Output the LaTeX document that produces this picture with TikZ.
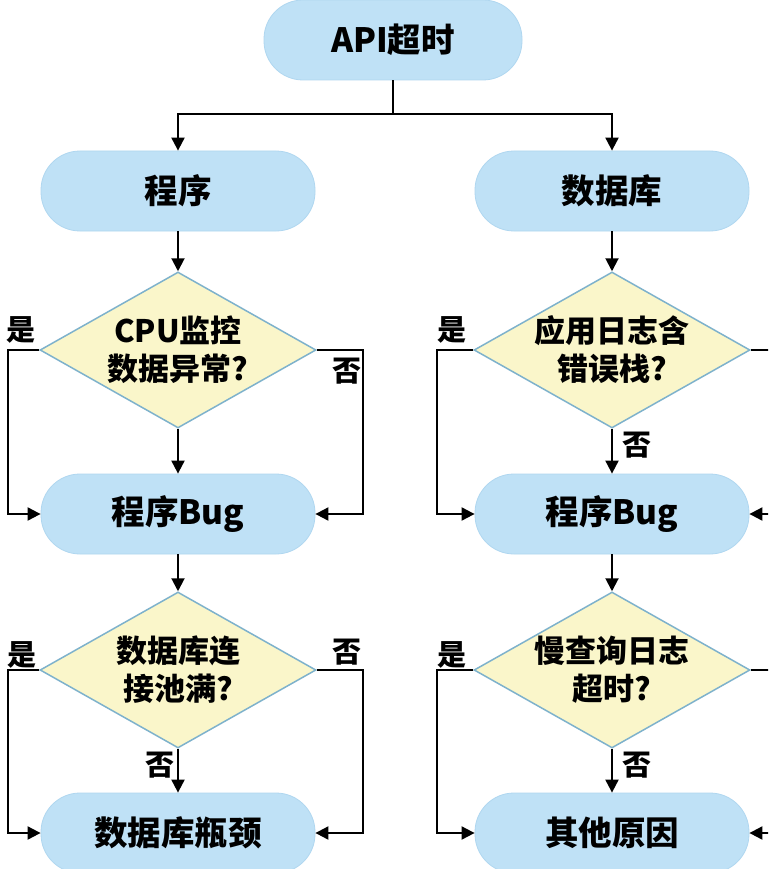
\documentclass[tikz,border=0pt]{standalone}
\usepackage{fontspec}
\setmainfont{Noto Sans CJK SC}
\usetikzlibrary{arrows.meta,shapes.geometric}
\definecolor{pillblue}{HTML}{BFE1F6}
\definecolor{pilledge}{HTML}{B0D7F0}
\definecolor{diafill}{HTML}{FAF6CA}
\definecolor{diaedge}{HTML}{7EB2CC}
\tikzset{
  pill/.style={rounded corners=39pt, fill=pillblue, draw=pilledge, line width=0.8pt,
    minimum width=274pt, minimum height=80pt, inner sep=0pt,
    font=\fontsize{33.5}{36}\selectfont\bfseries},
  dia/.style={diamond, fill=diafill, draw=diaedge, line width=1.5pt,
    minimum width=276pt, minimum height=156pt, inner sep=0pt},
  diatext/.style={align=center, font=\fontsize{31}{38}\selectfont\bfseries},
  lbl/.style={font=\fontsize{29}{30}\selectfont\bfseries, inner sep=0pt},
  conn/.style={line width=2pt, black},
  arr/.style={conn, -{Triangle[length=13pt,width=13pt]}}
}
\begin{document}
\begin{tikzpicture}[x=1pt,y=-1pt]
\useasboundingbox (0,0) rectangle (768,869);
\clip (0,0) rectangle (768,869);
\fill[white] (0,0) rectangle (768,869);
% nodes
\node[pill, minimum width=258pt] (api) at (393,40) {API超时};
\node[pill] (prog) at (178,191) {程序};
\node[pill] (db) at (612,191) {数据库};
\node[dia] (d1) at (178,350) {};
\node[diatext] (t1) at (d1.center) {CPU监控\\数据异常?};
\node[dia] (d2) at (612,350) {};
\node[diatext] (t2) at (d2.center) {应用日志含\\错误栈?};
\node[pill] (bug1) at (178,514) {程序Bug};
\node[pill] (bug2) at (612,514) {程序Bug};
\node[dia] (d3) at (178,670) {};
\node[diatext] (t3) at (d3.center) {数据库连\\接池满?};
\node[dia] (d4) at (612,670) {};
\node[diatext] (t4) at (d4.center) {慢查询日志\\超时?};
\node[pill] (bot1) at (178,833) {数据库瓶颈};
\node[pill] (bot2) at (612,833) {其他原因};
% helper coordinates
\coordinate (split) at (393,114);
\coordinate (l1) at (8,350);
\coordinate (r1) at (363,350);
\coordinate (l2) at (437,350);
\coordinate (r2) at (800,350);
\coordinate (l3) at (8,670);
\coordinate (r3) at (363,670);
\coordinate (l4) at (437,670);
\coordinate (r4) at (800,670);
% top split
\draw[conn] (api.south) -- (split);
\draw[arr] (split) -| (prog.north);
\draw[arr] (split) -| (db.north);
% vertical flow
\draw[arr] (prog.south) -- (d1.north);
\draw[arr] (db.south) -- (d2.north);
\draw[arr] (d1.south) -- (bug1.north);
\draw[arr] (d2.south) -- (bug2.north);
\draw[arr] (bug1.south) -- (d3.north);
\draw[arr] (bug2.south) -- (d4.north);
\draw[arr] (d3.south) -- (bot1.north);
\draw[arr] (d4.south) -- (bot2.north);
% side loops
\draw[arr] (d1.west) -- (l1) |- (bug1.west);
\draw[arr] (d1.east) -- (r1) |- (bug1.east);
\draw[arr] (d2.west) -- (l2) |- (bug2.west);
\draw[arr] (d2.east) -- (r2) |- (bug2.east);
\draw[arr] (d3.west) -- (l3) |- (bot1.west);
\draw[arr] (d3.east) -- (r3) |- (bot1.east);
\draw[arr] (d4.west) -- (l4) |- (bot2.west);
\draw[arr] (d4.east) -- (r4) |- (bot2.east);
% labels
\node[lbl] (y1) at (21,330) {是};
\node[lbl] (n1) at (347,371) {否};
\node[lbl] (y2) at (452,330) {是};
\node[lbl] (n2) at (637,445) {否};
\node[lbl] (y3) at (22,655) {是};
\node[lbl] (n3a) at (347,652) {否};
\node[lbl] (n3b) at (160,765) {否};
\node[lbl] (y4) at (452,655) {是};
\node[lbl] (n4) at (637,765) {否};
\end{tikzpicture}
\end{document}
